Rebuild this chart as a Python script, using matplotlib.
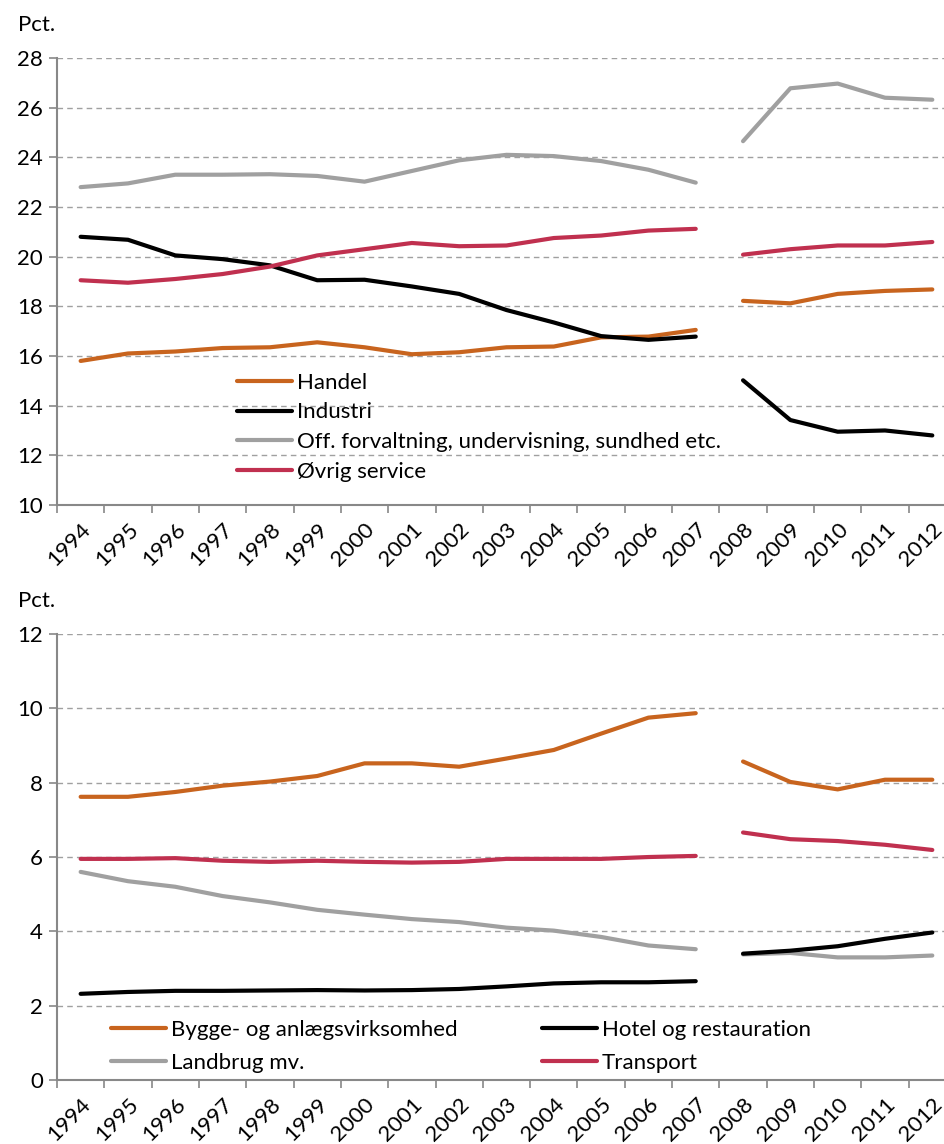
import numpy as np
import matplotlib
matplotlib.use('Agg')
import matplotlib.pyplot as plt

plt.rcParams['font.family'] = ['Lato', 'DejaVu Sans']

years = [str(y) for y in range(1994, 2013)]

# upper panel, share of employment (pct.)
handel = [15.8, 16.1, 16.18, 16.32, 16.35, 16.55, 16.35, 16.07, 16.15, 16.35, 16.38, 16.75, 16.78, 17.05,
          18.22, 18.12, 18.5, 18.62, 18.68]
industri = [20.8, 20.68, 20.05, 19.9, 19.65, 19.05, 19.07, 18.8, 18.5, 17.85, 17.35, 16.8, 16.65, 16.78,
            15.02, 13.42, 12.95, 13.0, 12.8]
offentlig = [22.8, 22.95, 23.3, 23.3, 23.32, 23.25, 23.02, 23.45, 23.88, 24.1, 24.05, 23.85, 23.5, 22.98,
             24.65, 26.78, 26.97, 26.4, 26.32]
oevrig = [19.05, 18.95, 19.1, 19.3, 19.6, 20.05, 20.3, 20.55, 20.42, 20.45, 20.75, 20.85, 21.05, 21.12,
          20.08, 20.3, 20.45, 20.45, 20.59]

# lower panel
bygge = [7.62, 7.62, 7.75, 7.92, 8.03, 8.18, 8.52, 8.52, 8.43, 8.65, 8.88, 9.32, 9.75, 9.87,
         8.57, 8.02, 7.82, 8.08, 8.08]
hotel = [2.32, 2.37, 2.4, 2.4, 2.41, 2.42, 2.41, 2.42, 2.45, 2.52, 2.6, 2.63, 2.63, 2.66,
         3.4, 3.48, 3.6, 3.8, 3.97]
landbrug = [5.6, 5.35, 5.2, 4.95, 4.78, 4.58, 4.45, 4.33, 4.25, 4.1, 4.02, 3.85, 3.62, 3.52,
            3.38, 3.42, 3.3, 3.3, 3.35]
transport = [5.95, 5.95, 5.97, 5.9, 5.87, 5.9, 5.87, 5.85, 5.87, 5.95, 5.95, 5.95, 6.0, 6.03,
             6.66, 6.48, 6.43, 6.33, 6.19]

ORANGE = '#C8641E'
BLACK = '#000000'
GRAY = '#A0A0A0'
RED = '#C0304F'
AXCOL = '#888888'
FS = 16

x = np.arange(len(years))
brk = years.index('2008')  # series break between 2007 and 2008


def draw(ax, vals, color, label):
    vals = np.array(vals, dtype=float)
    ax.plot(x[:brk], vals[:brk], color=color, lw=3, solid_capstyle='round', label=label)
    ax.plot(x[brk:], vals[brk:], color=color, lw=3, solid_capstyle='round')


def style(ax, ylo, yhi):
    ax.set_xlim(-0.5, len(years) - 0.5)
    ax.set_ylim(ylo, yhi)
    ax.set_yticks(np.arange(ylo, yhi + 1, 2))
    ax.yaxis.grid(True, ls=(0, (4, 3)), color='#A0A0A0', lw=1)
    ax.set_axisbelow(True)
    for s in ['top', 'right']:
        ax.spines[s].set_visible(False)
    for s in ['left', 'bottom']:
        ax.spines[s].set_color(AXCOL)
        ax.spines[s].set_linewidth(1.5)
    ax.set_xticks(x)
    ax.set_xticklabels(years, rotation=45, ha='right', rotation_mode='anchor', fontsize=FS)
    ax.tick_params(axis='x', which='major', length=0, pad=10)
    ax.set_xticks(np.arange(-0.5, len(years), 1), minor=True)
    ax.tick_params(axis='x', which='minor', length=6, width=1.2, color=AXCOL)
    ax.tick_params(axis='y', length=6, width=1.2, color=AXCOL, labelsize=FS, pad=4)


fig = plt.figure(figsize=(9.45, 11.44), dpi=100)

ax1 = fig.add_axes([0.0603, 0.5586, 0.9513, 0.3907])
draw(ax1, handel, ORANGE, 'Handel')
draw(ax1, industri, BLACK, 'Industri')
draw(ax1, offentlig, GRAY, 'Off. forvaltning, undervisning, sundhed etc.')
draw(ax1, oevrig, RED, 'Øvrig service')
style(ax1, 10, 28)
ax1.legend(loc='upper left', bbox_to_anchor=(0.19, 0.316), frameon=False, fontsize=FS,
           handlelength=2.5, handletextpad=0.2, labelspacing=0.44, borderaxespad=0)

ax2 = fig.add_axes([0.0603, 0.0559, 0.9513, 0.3899])
draw(ax2, bygge, ORANGE, 'Bygge- og anlægsvirksomhed')
draw(ax2, landbrug, GRAY, 'Landbrug mv.')
draw(ax2, hotel, BLACK, 'Hotel og restauration')
draw(ax2, transport, RED, 'Transport')
style(ax2, 0, 12)
ax2.legend(loc='upper left', bbox_to_anchor=(0.05, 0.155), ncol=2, frameon=False, fontsize=FS,
           handlelength=2.5, handletextpad=0.2, labelspacing=0.58, columnspacing=3.8,
           borderaxespad=0)

fig.text(0.019, 0.978, 'Pct.', fontsize=FS, va='center', ha='left')
fig.text(0.019, 0.475, 'Pct.', fontsize=FS, va='center', ha='left')

fig.savefig('out.png', dpi=100)
